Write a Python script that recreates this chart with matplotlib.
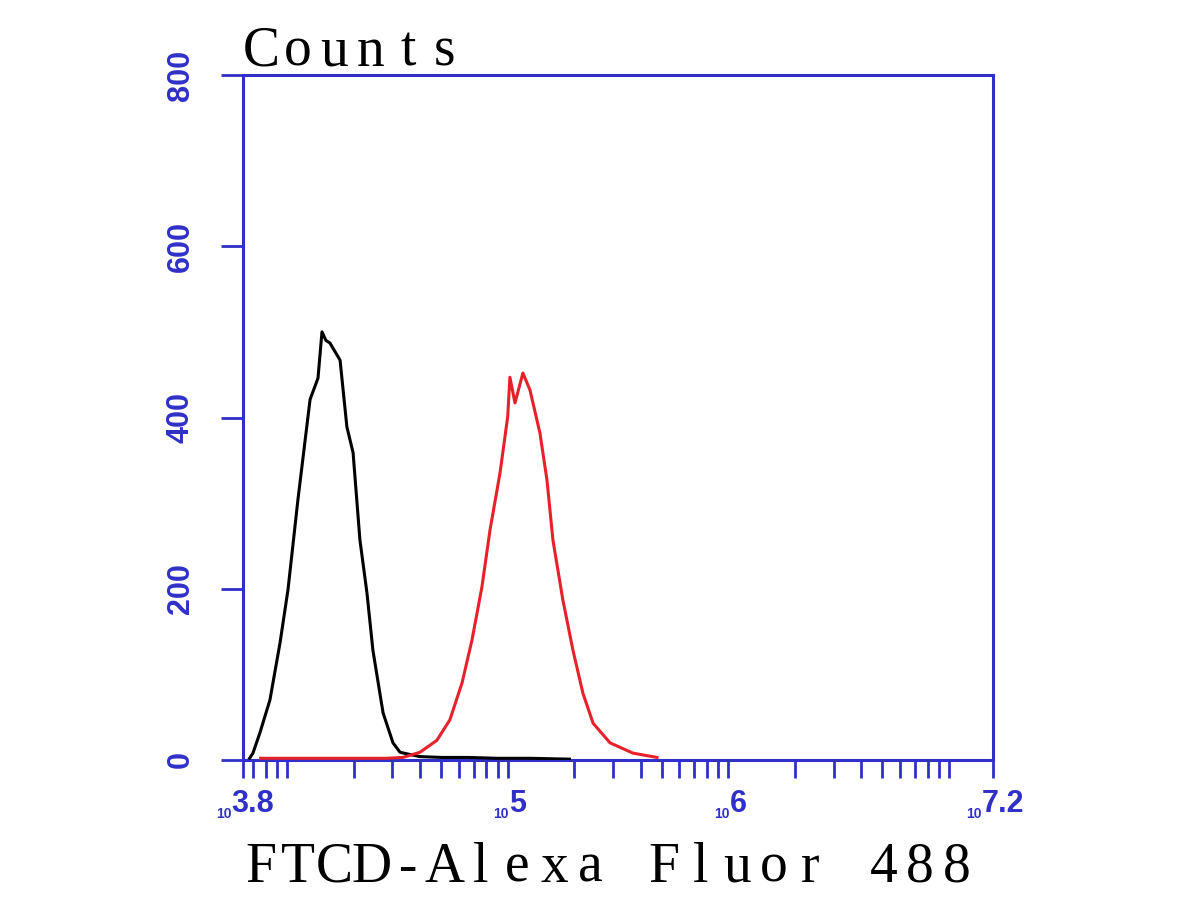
import numpy as np
import matplotlib
matplotlib.use("Agg")
import matplotlib.pyplot as plt

# histogram outlines (x in log10 of intensity)
black_log = [3.83, 3.845, 3.877, 3.922, 3.968, 4.004, 4.049, 4.104, 4.140, 4.158,
             4.176, 4.194, 4.240, 4.271, 4.299, 4.330, 4.362, 4.389, 4.435, 4.480,
             4.512, 4.60, 4.70, 4.82, 4.95, 5.10, 5.28]
black_counts = [2, 8, 32, 70, 137, 199, 304, 421, 446, 500,
                490, 487, 467, 389, 359, 257, 195, 128, 55, 20,
                9, 4, 3, 3, 2, 2, 1]

red_log = [3.88, 4.20, 4.45, 4.525, 4.602, 4.679, 4.738, 4.793, 4.838, 4.883,
           4.920, 4.965, 5.000, 5.010, 5.033, 5.069, 5.101, 5.146, 5.178, 5.205,
           5.250, 5.296, 5.341, 5.387, 5.464, 5.568, 5.677]
red_counts = [2, 2, 2, 3, 9, 23, 47, 90, 140, 202,
              269, 335, 401, 447, 417, 452, 432, 382, 327, 257,
              187, 128, 78, 43, 20, 8, 3]

xlim_exp = [3.8, 7.2]
xtick_exps = [3.8, 5, 6, 7.2]
xtick_texts = ["3.8", "5", "6", "7.2"]
yticks = [0, 200, 400, 600, 800]
title = "Counts"
xlabel = "FTCD-Alexa Fluor 488"

blue = "#3030c8"
W, H = 1200, 900

fig = plt.figure(figsize=(12, 9), dpi=100)
ax = fig.add_axes([243/W, 140/H, 750/W, 685/H])

ax.plot(10**np.array(black_log), black_counts, color="black", lw=2.2, zorder=3)
ax.plot(10**np.array(red_log), red_counts, color="#e8202a", lw=2.2, zorder=4)

ax.set_xscale("log")
ax.set_xlim(10**xlim_exp[0], 10**xlim_exp[1])
ax.set_ylim(0, 800)

# every 1..9 x 10^k tick inside the range, plus both ends
ticks = [m * 10.0**k for k in range(3, 8) for m in range(1, 10)]
ticks = [t for t in ticks if 10**xlim_exp[0] <= t <= 10**xlim_exp[1]]
ticks = ticks + [10**xlim_exp[0], 10**xlim_exp[1]]
ax.xaxis.set_major_locator(matplotlib.ticker.FixedLocator(ticks))
ax.xaxis.set_minor_locator(matplotlib.ticker.NullLocator())
ax.set_xticklabels([])
ax.tick_params(axis="x", direction="out", length=13, width=2, color=blue)

ax.set_yticks(yticks)
ax.set_yticklabels([str(v) for v in yticks], rotation=90, va="center",
                   fontsize=22, color=blue, family="Liberation Sans",
                   fontweight="bold")
ax.tick_params(axis="y", direction="out", length=16, width=2, color=blue, pad=18)

for s in ax.spines.values():
    s.set_color(blue)
    s.set_linewidth(2.2)

# x tick labels in the "10 exponent" style of the cytometer software
for e, t in zip(xtick_exps, xtick_texts):
    big = ax.annotate(t, xy=(10**e, 0), xycoords=("data", "axes fraction"),
                      xytext=(7, -21), textcoords="offset points",
                      ha="center", va="top", fontsize=22, color=blue,
                      family="Liberation Sans", fontweight="bold",
                      annotation_clip=False)
    ax.annotate("10", xy=(0, 0), xycoords=big, xytext=(0, -1),
                textcoords="offset points", ha="right", va="bottom",
                fontsize=10, color=blue, family="Liberation Sans",
                fontweight="bold")


def mono_text(s, x0, base, cell=36.6, size=40):
    # fixed-pitch serif text like the original software, one glyph per cell
    for i, ch in enumerate(s):
        if ch == " ":
            continue
        fig.text((x0 + (i + 0.5) * cell) / W, 1 - base / H, ch,
                 ha="center", va="baseline", fontsize=size,
                 family="Liberation Serif")


mono_text(title, 243, 66)
mono_text(xlabel, 243, 882)

fig.savefig("out.png", dpi=100, facecolor="white")
